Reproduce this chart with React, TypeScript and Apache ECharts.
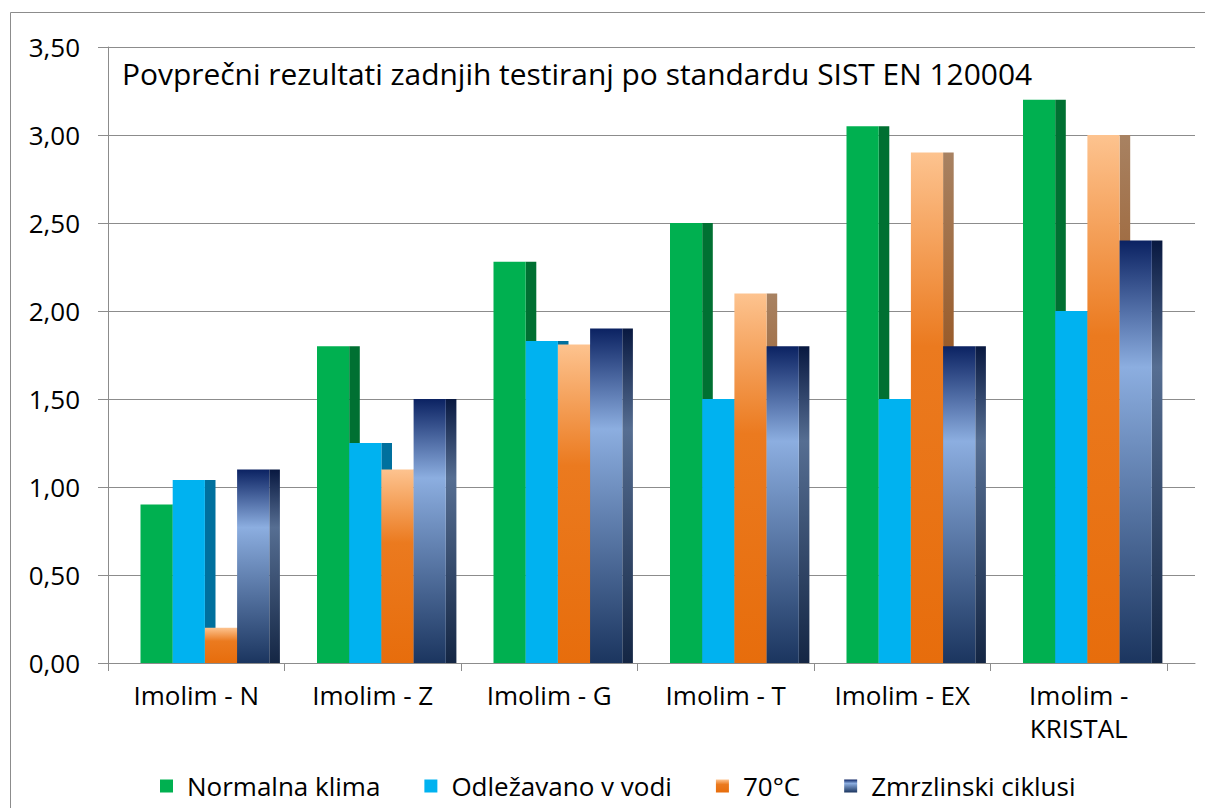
import React, { useEffect, useRef } from "react";
import * as echarts from "echarts";

const categories = ["Imolim - N", "Imolim - Z", "Imolim - G", "Imolim - T", "Imolim - EX", "Imolim - KRISTAL"];
const seriesNames = ["Normalna klima", "Odležavano v vodi", "70°C", "Zmrzlinski ciklusi"];
const normalnaKlima = [0.9, 1.8, 2.28, 2.5, 3.05, 3.2];
const odlezavano = [1.04, 1.25, 1.83, 1.5, 1.5, 2.0];
const temp70 = [0.2, 1.1, 1.81, 2.1, 2.9, 3.0];
const zmrzlinski = [1.1, 1.5, 1.9, 1.8, 1.8, 2.4];
const yTicks = { min: 0, max: 3.5, interval: 0.5 };
const titleText = "Povprečni rezultati zadnjih testiranj po standardu SIST EN 120004";

const FONT = "'Open Sans', 'Noto Sans', sans-serif";

function lg(stops: [number, string][]) {
  return new echarts.graphic.LinearGradient(0, 0, 0, 1, stops.map(([offset, color]) => ({ offset, color })));
}

export default function App() {
  const ref = useRef<HTMLDivElement>(null);
  useEffect(() => {
    if (!ref.current) return;
    const chart = echarts.init(ref.current, null, { renderer: "svg" });
    const values = [normalnaKlima, odlezavano, temp70, zmrzlinski];
    const fronts: any[] = [
      "#00B050",
      "#00B2F0",
      lg([[0, "#FDC38F"], [0.38, "#EB7A1F"], [1, "#E76D0C"]]),
      lg([[0, "#0B2262"], [0.3, "#8CAEE0"], [1, "#1B355F"]]),
    ];
    const sides: any[] = [
      "#007032",
      "#00709E",
      lg([[0, "#A88262"], [0.4, "#995A28"], [1, "#8C4A12"]]),
      lg([[0, "#081840"], [0.3, "#566E92"], [1, "#142644"]]),
    ];
    const OFFSET = 32.5 / 176.5;
    const BW = 32.2 / 176.5;
    const SW = 10.6 / 176.5;

    const series = values.map((vals, s) => ({
      type: "custom",
      name: seriesNames[s],
      xAxisIndex: 0,
      yAxisIndex: 0,
      z: 2 + s,
      itemStyle: { color: fronts[s] },
      encode: { x: 0, y: 1 },
      data: vals.map((v, i) => [i, v]),
      renderItem: (params: any, api: any) => {
        const ci = api.value(0);
        const v = api.value(1);
        const p = api.coord([ci, v]);
        const p0 = api.coord([ci, 0]);
        const band = api.size([1, 0])[0];
        const x0 = p[0] - band / 2;
        const fx = x0 + band * OFFSET + s * band * BW;
        const fw = band * BW;
        const sw = band * SW;
        const h = p0[1] - p[1];
        return {
          type: "group",
          children: [
            { type: "rect", shape: { x: fx + fw, y: p[1], width: sw, height: h }, style: { fill: sides[s] } },
            { type: "rect", shape: { x: fx, y: p[1], width: fw, height: h }, style: { fill: fronts[s] } },
          ],
        };
      },
    }));

    chart.setOption({
      animation: false,
      backgroundColor: "#ffffff",
      legend: {
        left: 155,
        top: 768,
        icon: "rect",
        itemWidth: 13,
        itemHeight: 13,
        itemGap: 44,
        data: seriesNames,
        textStyle: { fontFamily: FONT, fontSize: 26, color: "#000", padding: [0, 0, 0, 9] },
      },
      graphic: [
        {
          type: "rect",
          shape: { x: 10.5, y: 12.5, width: 1220, height: 820 },
          style: { fill: "none", stroke: "#8c8c8c", lineWidth: 1 },
          silent: true,
          z: -10,
        },
        {
          type: "text",
          x: 122,
          y: 74,
          scaleX: 1.05,
          style: {
            text: titleText,
            fontFamily: FONT,
            fontSize: 28.5,
            fill: "#000",
            verticalAlign: "middle",
            align: "left",
          },
          z: 10,
        },
      ],
      grid: [
        { left: 108, top: 47, width: 1059, height: 616 },
        { left: 108, top: 47, width: 1087, height: 616 },
      ],
      xAxis: [
        {
          type: "category",
          gridIndex: 0,
          data: categories,
          boundaryGap: true,
          axisLine: { show: true, lineStyle: { color: "#8c8c8c", width: 1 } },
          axisTick: { show: true, length: 8, alignWithLabel: false, lineStyle: { color: "#8c8c8c" } },
          axisLabel: {
            interval: 0,
            margin: 15,
            fontFamily: FONT,
            fontSize: 26,
            color: "#000",
            lineHeight: 33,
            formatter: (v: string) => (v.length > 12 ? v.replace(" - ", " -\n") : v),
          },
          splitLine: { show: false },
        },
        {
          type: "value",
          gridIndex: 1,
          min: 0,
          max: 1,
          axisLine: { show: true, lineStyle: { color: "#8c8c8c", width: 1 } },
          axisTick: { show: false },
          axisLabel: { show: false },
          splitLine: { show: false },
        },
      ],
      yAxis: [
        { type: "value", gridIndex: 0, min: yTicks.min, max: yTicks.max, interval: yTicks.interval, show: false },
        {
          type: "value",
          gridIndex: 1,
          min: yTicks.min,
          max: yTicks.max,
          interval: yTicks.interval,
          axisLine: { show: true, lineStyle: { color: "#8c8c8c", width: 1 } },
          axisTick: { show: true, length: 10, lineStyle: { color: "#8c8c8c" } },
          axisLabel: {
            margin: 28,
            fontFamily: FONT,
            fontSize: 26,
            color: "#000",
            formatter: (v: number) => v.toFixed(2).replace(".", ","),
          },
          splitLine: { show: true, lineStyle: { color: "#8c8c8c", width: 1 } },
        },
      ],
      series,
    });
    return () => chart.dispose();
  }, []);
  return <div ref={ref} style={{ position: "fixed", left: 0, top: 0, width: 1205, height: 808 }} />;
}
